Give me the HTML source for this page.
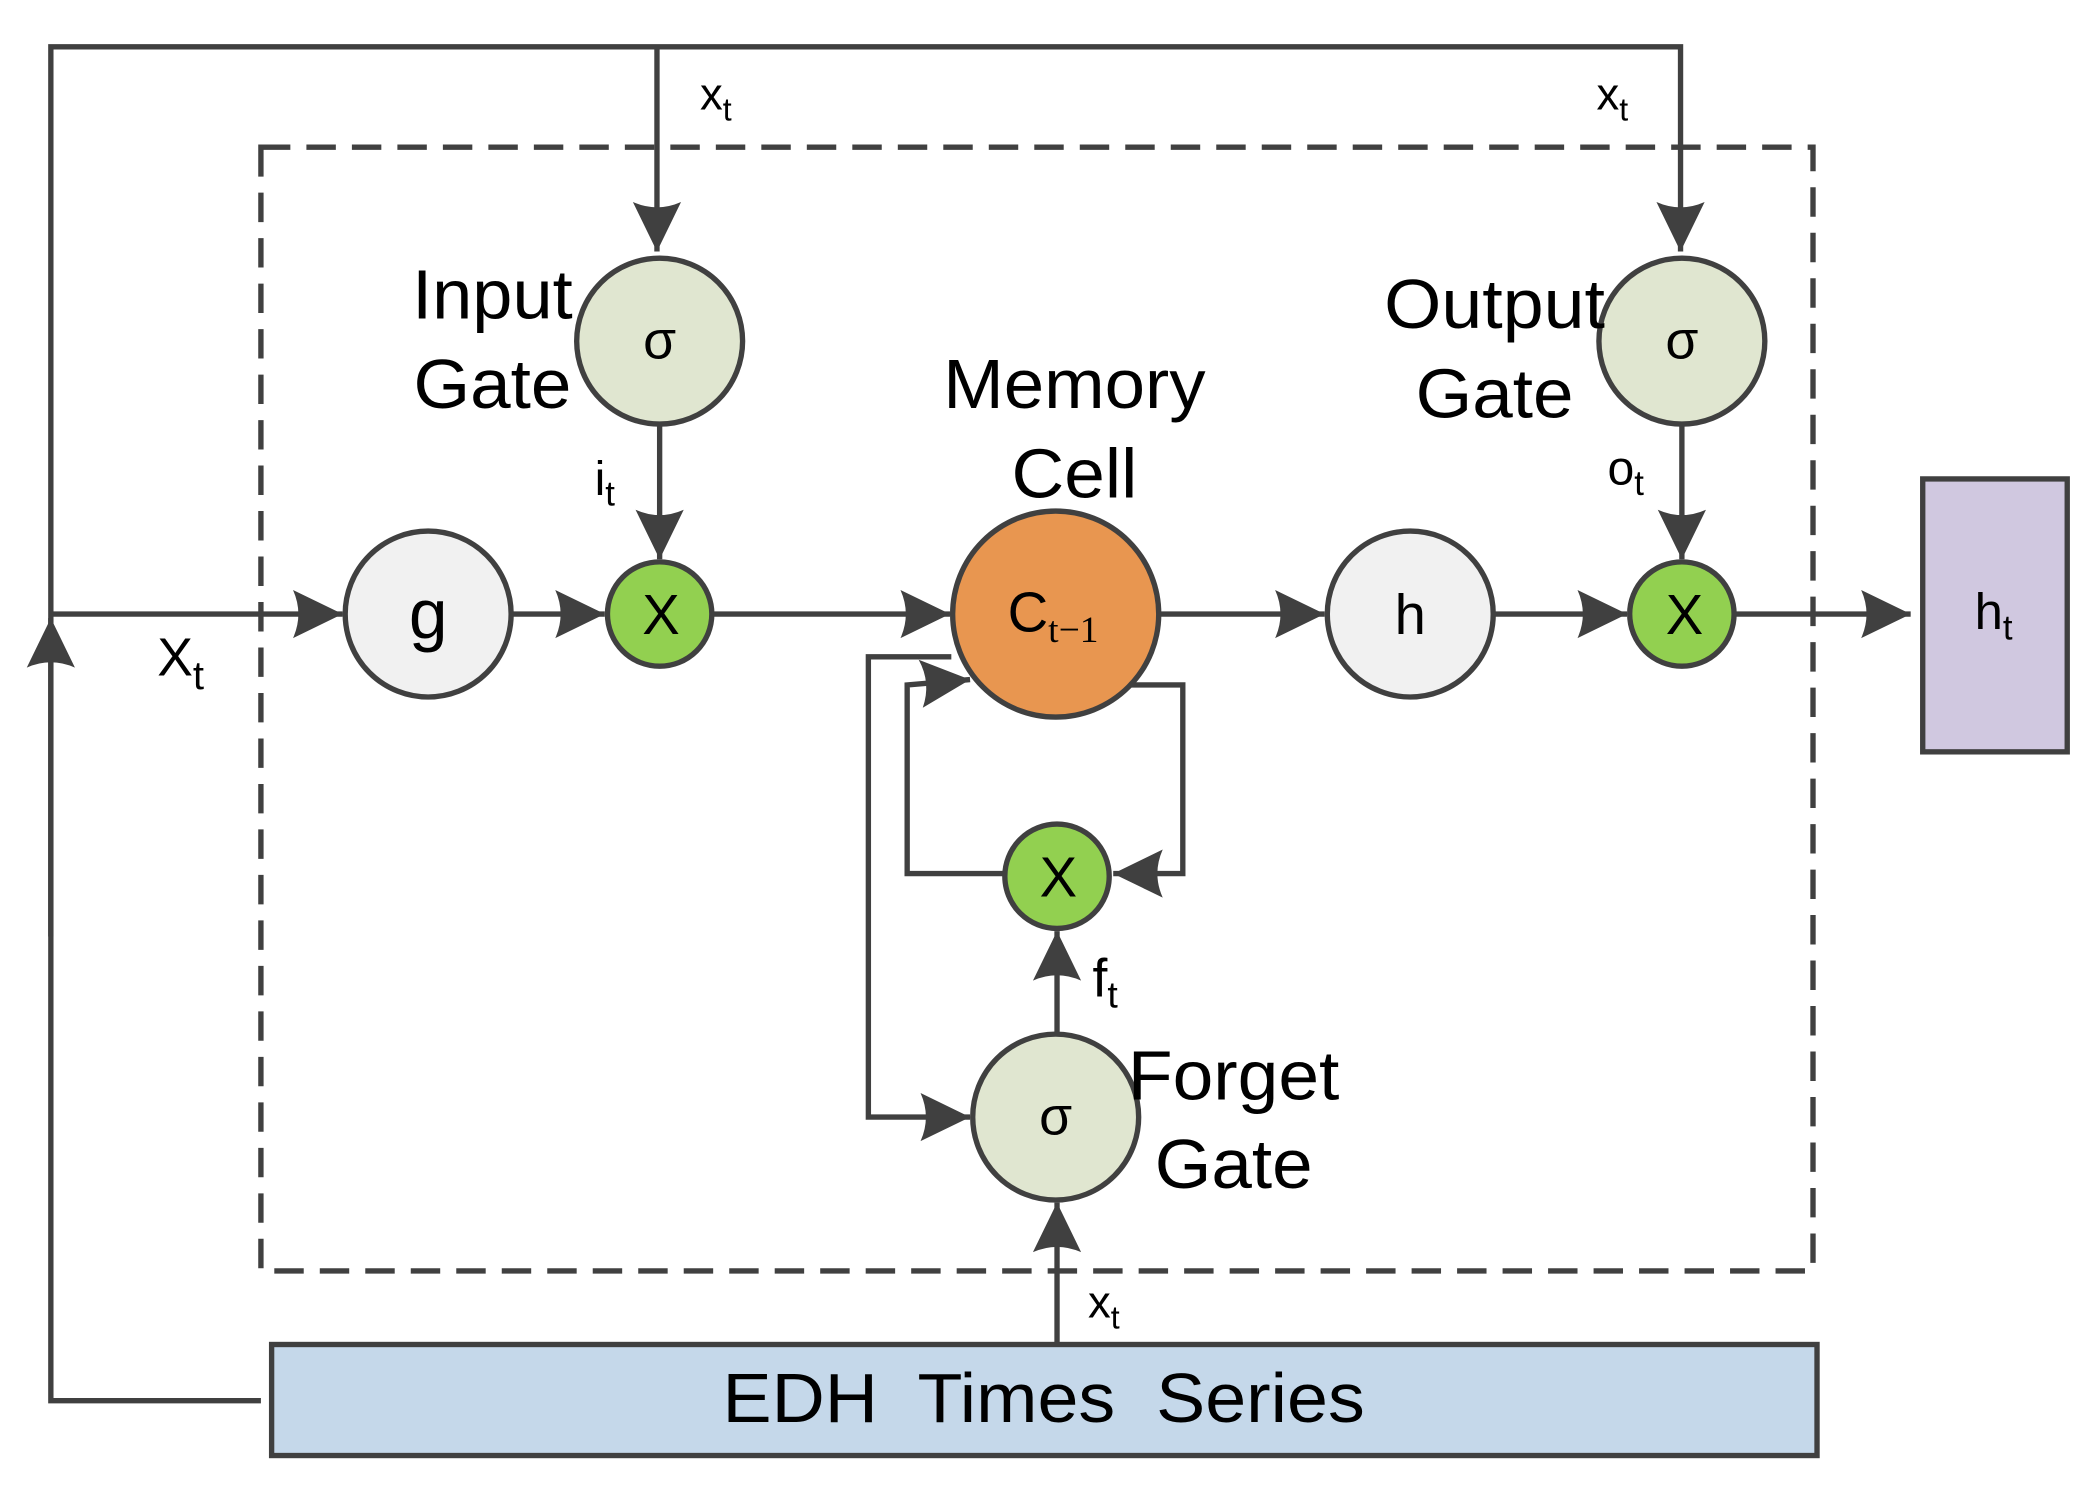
<!DOCTYPE html>
<html><head><style>html,body{margin:0;padding:0;background:#fff}svg{display:block}</style></head>
<body>
<svg width="2098" height="1497" viewBox="0 0 1568 1119" preserveAspectRatio="none" xmlns="http://www.w3.org/2000/svg" font-family="'Liberation Sans', sans-serif">
<defs>
<marker id="a" viewBox="0 0 10 10" refX="9" refY="5" markerWidth="10" markerHeight="10" markerUnits="userSpaceOnUse" orient="auto" overflow="visible">
<path d="M-28,-13 L9,5 L-28,23 Q-20,5 -28,-13 Z" fill="#404040"/>
</marker>
</defs>
<g stroke="#404040" stroke-width="4" fill="none">
<rect x="195" y="110" width="1160" height="840" stroke-dasharray="22,12"/>
<polyline points="195,1047 38,1047 38,35 1256,35 1256,188" marker-end="url(#a)"/>
<line x1="491" y1="35" x2="491" y2="188" marker-end="url(#a)"/>
<line x1="38" y1="700" x2="38" y2="462" marker-end="url(#a)"/>
<line x1="38" y1="459" x2="256" y2="459" marker-end="url(#a)"/>
<line x1="382" y1="459" x2="452" y2="459" marker-end="url(#a)"/>
<line x1="533" y1="459" x2="710" y2="459" marker-end="url(#a)"/>
<line x1="866" y1="459" x2="990" y2="459" marker-end="url(#a)"/>
<line x1="1116" y1="459" x2="1216" y2="459" marker-end="url(#a)"/>
<line x1="1296" y1="459" x2="1428" y2="459" marker-end="url(#a)"/>
<line x1="493" y1="317" x2="493" y2="418" marker-end="url(#a)"/>
<line x1="1257" y1="317" x2="1257" y2="418" marker-end="url(#a)"/>
<polyline points="840,512 884,512 884,653 832,653" marker-end="url(#a)"/>
<polyline points="751,653 678,653 678,512 725,508" marker-end="url(#a)"/>
<polyline points="711,491 649,491 649,835 725,835" marker-end="url(#a)"/>
<line x1="790" y1="773" x2="790" y2="696" marker-end="url(#a)"/>
<line x1="790" y1="1005" x2="790" y2="899" marker-end="url(#a)"/>
</g>
<g stroke="#404040" stroke-width="4">
<circle cx="493" cy="255" r="62" fill="#e0e6d0"/>
<circle cx="1257" cy="255" r="62" fill="#e0e6d0"/>
<circle cx="320" cy="459" r="62" fill="#f1f1f1"/>
<circle cx="1054" cy="459" r="62" fill="#f1f1f1"/>
<circle cx="493" cy="459" r="39" fill="#92d050"/>
<circle cx="1257" cy="459" r="39" fill="#92d050"/>
<circle cx="790" cy="655" r="39" fill="#92d050"/>
<circle cx="789" cy="459" r="77" fill="#e89650"/>
<circle cx="789" cy="835" r="62" fill="#e0e6d0"/>
<rect x="1437" y="358" width="108" height="204" fill="#d0c8e0"/>
<rect x="203" y="1005" width="1155" height="83" fill="#c5d8ea"/>
</g>
<g fill="#000" text-anchor="middle">
<text x="493" y="268" font-size="40">σ</text>
<text x="1257" y="268" font-size="40">σ</text>
<text x="789" y="848" font-size="40">σ</text>
<text x="320" y="477" font-size="52">g</text>
<text x="1054" y="474" font-size="42">h</text>
<text x="494" y="474" font-size="42">X</text>
<text x="1259" y="474" font-size="42">X</text>
<text x="791" y="670" font-size="42">X</text>
<text x="787" y="472" font-size="42">C<tspan font-size="28" dy="8" font-family="'Liberation Serif', serif">t−1</tspan></text>
<text x="1490" y="470" font-size="38">h<tspan font-size="26" dy="8">t</tspan></text>
<text x="368" y="238" font-size="52" textLength="120" lengthAdjust="spacingAndGlyphs">Input</text>
<text x="368" y="305" font-size="52" textLength="118" lengthAdjust="spacingAndGlyphs">Gate</text>
<text x="1117" y="245" font-size="52" textLength="165" lengthAdjust="spacingAndGlyphs">Output</text>
<text x="1117" y="312" font-size="52" textLength="118" lengthAdjust="spacingAndGlyphs">Gate</text>
<text x="803" y="305" font-size="52" textLength="196" lengthAdjust="spacingAndGlyphs">Memory</text>
<text x="803" y="372" font-size="52" textLength="94" lengthAdjust="spacingAndGlyphs">Cell</text>
<text x="922" y="822" font-size="52" textLength="158" lengthAdjust="spacingAndGlyphs">Forget</text>
<text x="922" y="888" font-size="52" textLength="118" lengthAdjust="spacingAndGlyphs">Gate</text>
<text x="780" y="1063" font-size="52" xml:space="preserve" textLength="480" lengthAdjust="spacingAndGlyphs">EDH  Times  Series</text>
<text x="535" y="82" font-size="34">x<tspan font-size="24" dy="8">t</tspan></text>
<text x="1205" y="82" font-size="34">x<tspan font-size="24" dy="8">t</tspan></text>
<text x="825" y="985" font-size="34">x<tspan font-size="24" dy="8">t</tspan></text>
<text x="135" y="505" font-size="40">X<tspan font-size="30" dy="10">t</tspan></text>
<text x="452" y="370" font-size="36">i<tspan font-size="26" dy="8">t</tspan></text>
<text x="1215" y="362" font-size="36">o<tspan font-size="26" dy="8">t</tspan></text>
<text x="826" y="745" font-size="40">f<tspan font-size="28" dy="8">t</tspan></text>
</g>
</svg>
</body></html>
